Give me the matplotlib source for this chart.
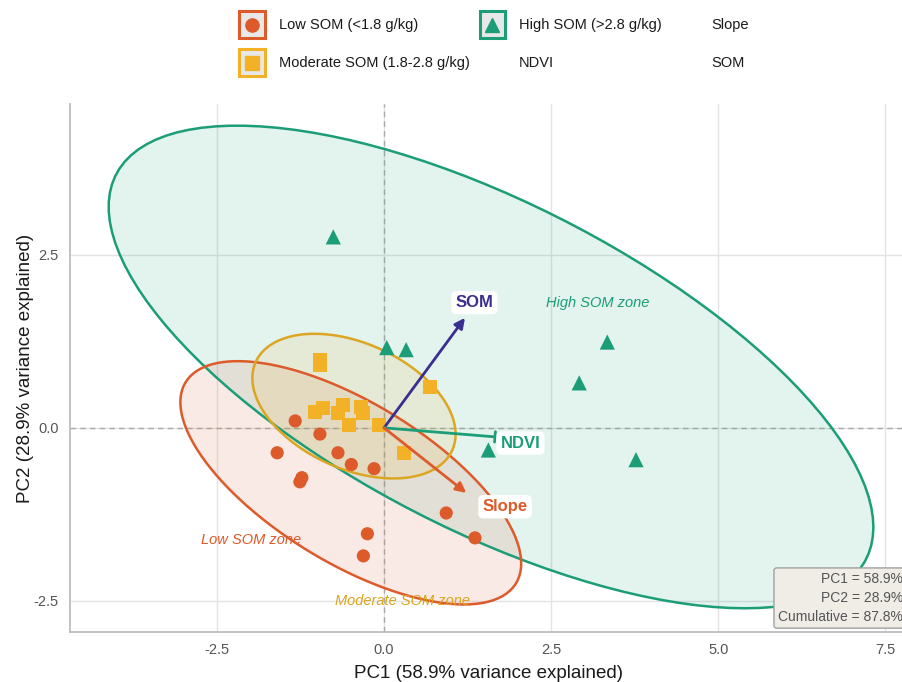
import numpy as np
import matplotlib
matplotlib.use('Agg')
import matplotlib.pyplot as plt
from matplotlib.patches import Polygon, Rectangle
from matplotlib.lines import Line2D
from matplotlib.legend_handler import HandlerBase

plt.rcParams['font.family'] = ['Liberation Sans', 'DejaVu Sans']

# PCA scores per SOM class
low_pc1 = [-1.33, -0.96, -1.60, -0.69, -0.49, -0.15, -1.23, -1.26, 0.93, 1.36, -0.25, -0.31]
low_pc2 = [0.10, -0.09, -0.36, -0.36, -0.53, -0.59, -0.72, -0.78, -1.23, -1.59, -1.53, -1.85]
mod_pc1 = [-0.96, -0.96, 0.69, -1.03, -0.91, -0.61, -0.69, -0.34, -0.31, -0.52, -0.07, 0.30]
mod_pc2 = [0.98, 0.91, 0.59, 0.23, 0.29, 0.33, 0.21, 0.30, 0.21, 0.04, 0.04, -0.36]
high_pc1 = [-0.76, 0.04, 0.33, 1.56, 3.34, 2.92, 3.77]
high_pc2 = [2.76, 1.16, 1.13, -0.32, 1.24, 0.65, -0.46]

# variable loadings (scaled)
var_names = ['SOM', 'NDVI', 'Slope']
var_pc1 = [1.21, 1.66, 1.23]
var_pc2 = [1.59, -0.13, -0.94]
var_label_pos = [(1.35, 1.81), (2.04, -0.22), (1.81, -1.14)]

pc1_var = 58.9
pc2_var = 28.9

groups = [
    ('Low SOM (<1.8 g/kg)', low_pc1, low_pc2, '#DD5A2B', '#DD5A2B', 'o', 90),
    ('Moderate SOM (1.8-2.8 g/kg)', mod_pc1, mod_pc2, '#F2B127', '#DDA622', 's', 100),
    ('High SOM (>2.8 g/kg)', high_pc1, high_pc2, '#1B9E77', '#1B9E77', '^', 120),
]
var_colors = {'SOM': '#3A2E8E', 'NDVI': '#1B9E77', 'Slope': '#DD5A2B'}


def f_quantile_2(p, d):
    # F(2, d) quantile has a closed form
    return (d / 2.0) * ((1 - p) ** (-2.0 / d) - 1)


def conf_ellipse(x, y, level=0.95, n_seg=120):
    pts = np.column_stack([x, y])
    mu = pts.mean(axis=0)
    cov = np.cov(pts, rowvar=False)
    r = np.sqrt(2 * f_quantile_2(level, len(x) - 1))
    L = np.linalg.cholesky(cov)
    t = np.linspace(0, 2 * np.pi, n_seg)
    circ = np.vstack([np.cos(t), np.sin(t)])
    return (mu[:, None] + r * L @ circ).T


class KeyHandler(HandlerBase):
    # grey key box with coloured border and the group marker centred in it
    def __init__(self, color, marker):
        super().__init__()
        self.color = color
        self.marker = marker

    def create_artists(self, legend, orig_handle, xdescent, ydescent, width, height, fontsize, trans):
        box = Rectangle((-xdescent, -ydescent), width, height, facecolor='#E8E8E8',
                        edgecolor=self.color, linewidth=2.2, transform=trans)
        cx = -xdescent + width / 2
        cy = -ydescent + height / 2
        dot = Line2D([cx], [cy], marker=self.marker, color=self.color, linestyle='none',
                     markersize=9.5, transform=trans)
        return [box, dot]


fig = plt.figure(figsize=(9.02, 6.82), dpi=100)
ax = fig.add_axes([70 / 902, 50 / 682, 836 / 902, 528 / 682])
ax.set_xlim(-4.70, 7.81)
ax.set_ylim(-2.95, 4.68)

ax.set_xticks([-2.5, 0, 2.5, 5, 7.5])
ax.set_yticks([-2.5, 0, 2.5])
ax.set_xticklabels(['-2.5', '0.0', '2.5', '5.0', '7.5'])
ax.set_yticklabels(['-2.5', '0.0', '2.5'])
ax.grid(True, color='#E3E3E3', linewidth=1.0, zorder=0)
ax.set_axisbelow(True)
for side in ['top', 'right']:
    ax.spines[side].set_visible(False)
for side in ['left', 'bottom']:
    ax.spines[side].set_color('#BDBDBD')
    ax.spines[side].set_linewidth(1.3)
ax.tick_params(length=0, labelsize=10.5, labelcolor='#555555', pad=8)

ax.axhline(0, color='#AAAAAA', linestyle=(0, (4, 3)), linewidth=1.0, zorder=1)
ax.axvline(0, color='#AAAAAA', linestyle=(0, (4, 3)), linewidth=1.0, zorder=1)

# ellipses: fills first, then outlines
ell_order = [2, 0, 1]
for i in ell_order:
    name, gx, gy, col, ecol, mk, sz = groups[i]
    poly = conf_ellipse(gx, gy)
    ax.add_patch(Polygon(poly, closed=True, facecolor=col, alpha=0.12, edgecolor='none', zorder=2))
for i in ell_order:
    name, gx, gy, col, ecol, mk, sz = groups[i]
    poly = conf_ellipse(gx, gy)
    ax.add_patch(Polygon(poly, closed=True, facecolor='none', edgecolor=ecol, linewidth=1.8, zorder=3))

for name, gx, gy, col, ecol, mk, sz in groups:
    ax.scatter(gx, gy, marker=mk, s=sz, color=col, edgecolors='none', zorder=4)

# loading arrows
for name, vx, vy, (lx, ly) in zip(var_names, var_pc1, var_pc2, var_label_pos):
    c = var_colors[name]
    style = '-|>' if name != 'NDVI' else '-[, widthB=0.25, lengthB=0'
    ax.annotate('', xy=(vx, vy), xytext=(0, 0),
                arrowprops=dict(arrowstyle=style, color=c, lw=2.0, mutation_scale=15,
                                shrinkA=0, shrinkB=0),
                zorder=5)
    ax.text(lx, ly, name, color=c, fontsize=12, fontweight='bold', ha='center', va='center',
            zorder=6, bbox=dict(boxstyle='round,pad=0.25,rounding_size=0.3', facecolor='white',
                                edgecolor='none'))

# zone labels
ax.text(3.19, 1.81, 'High SOM zone', color='#1B9E77', fontsize=10.5, style='italic',
        ha='center', va='center', zorder=6)
ax.text(-1.99, -1.62, 'Low SOM zone', color='#DD5A2B', fontsize=10.5, style='italic',
        ha='center', va='center', zorder=6)
ax.text(0.28, -2.50, 'Moderate SOM zone', color='#D9A520', fontsize=10.5, style='italic',
        ha='center', va='center', zorder=6)

ax.set_xlabel(f'PC1 ({pc1_var}% variance explained)', fontsize=13.5, color='#1A1A1A', labelpad=6)
ax.set_ylabel(f'PC2 ({pc2_var}% variance explained)', fontsize=13.5, color='#1A1A1A', labelpad=0)

# variance summary box
fig.text(903 / 902, 1 - 624 / 682,
         f'PC1 = {pc1_var}%\nPC2 = {pc2_var}%\nCumulative = {pc1_var + pc2_var:.1f}%',
         ha='right', va='bottom', fontsize=10, color='#555555', linespacing=1.45,
         bbox=dict(boxstyle='round,pad=0.3,rounding_size=0.2', facecolor='#EFEDE6',
                   edgecolor='#A0A0A0', linewidth=1.0))

# legend
key_low = Rectangle((0, 0), 1, 1)
key_mod = Rectangle((0, 0), 1, 1)
key_high = Rectangle((0, 0), 1, 1)
blank = Line2D([], [], linestyle='none')
handles = [key_low, key_mod, key_high, blank, blank, blank]
labels = ['Low SOM (<1.8 g/kg)', 'Moderate SOM (1.8-2.8 g/kg)', 'High SOM (>2.8 g/kg)',
          'NDVI', 'Slope', 'SOM']
fig.legend(handles, labels, ncol=3, loc='upper center', bbox_to_anchor=(494 / 902, 1 - 4 / 682),
           frameon=False, fontsize=10.5, handlelength=1.75, handleheight=2.47,
           handletextpad=0.95, columnspacing=0.7, labelspacing=0.75, borderpad=0,
           labelcolor='#1A1A1A',
           handler_map={key_low: KeyHandler('#DD5A2B', 'o'),
                        key_mod: KeyHandler('#F2B127', 's'),
                        key_high: KeyHandler('#1B9E77', '^')})

fig.savefig('out.png', dpi=100)
